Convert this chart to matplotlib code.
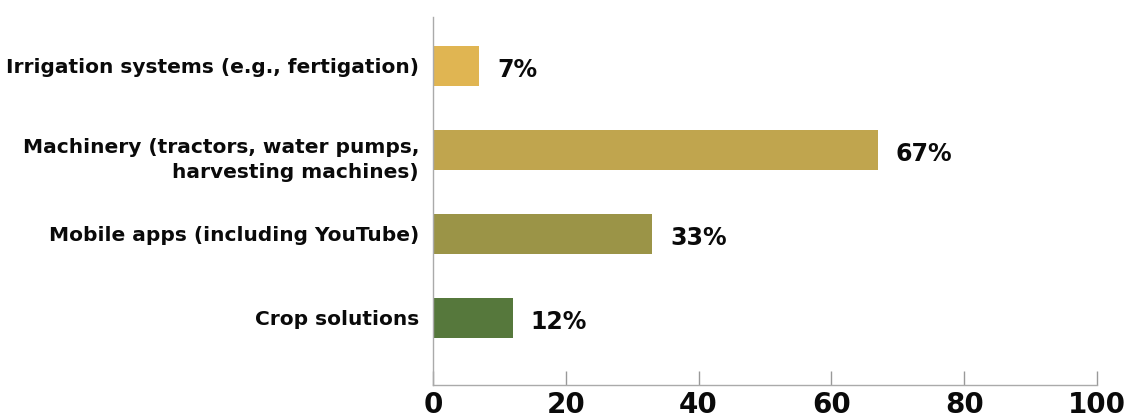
import matplotlib
matplotlib.use("Agg")
import matplotlib.pyplot as plt
from matplotlib.transforms import ScaledTranslation

categories = ["Irrigation systems (e.g., fertigation)",
              "Machinery (tractors, water pumps,\nharvesting machines)",
              "Mobile apps (including YouTube)",
              "Crop solutions"]
values = [7, 67, 33, 12]
colors = ["#E0B552", "#C0A54E", "#9B9447", "#56783C"]
xticks = [0, 20, 40, 60, 80, 100]

plt.rcParams['font.family'] = ['DejaVu Sans']

fig = plt.figure(figsize=(11.24, 4.17), dpi=100)
ax = fig.add_axes([433/1124, 1-385/417, (1097-433)/1124, (385-17)/417])

ypos = list(range(len(categories)))
ax.barh(ypos, values, height=0.48, color=colors)
for y, v in zip(ypos, values):
    ax.text(v + 2.7, y + 0.05, f"{v}%", va="center", ha="left",
            fontsize=17, fontweight="bold", color="#0a0a0a")

ax.set_xlim(0, 100)
ax.set_ylim(3.8, -0.58)
ax.set_yticks(ypos)
ax.set_yticklabels(categories, fontsize=14.5, fontweight="bold",
                   color="#0a0a0a", ha="right", multialignment="right",
                   linespacing=1.35)
ax.tick_params(axis="y", length=0, pad=10)
lbl = ax.get_yticklabels()[1]
lbl.set_transform(lbl.get_transform() + ScaledTranslation(0, -4/72, fig.dpi_scale_trans))
ax.set_xticks(xticks)
ax.set_xticklabels([str(t) for t in xticks], fontsize=20, fontweight="bold",
                   color="#0a0a0a")
ax.tick_params(axis="x", direction="in", length=10, width=1, color="#999999", pad=4)

for s in ["top", "right"]:
    ax.spines[s].set_visible(False)
for s in ["left", "bottom"]:
    ax.spines[s].set_color("#AAAAAA")
    ax.spines[s].set_linewidth(1)

fig.savefig("out.png", dpi=100)
